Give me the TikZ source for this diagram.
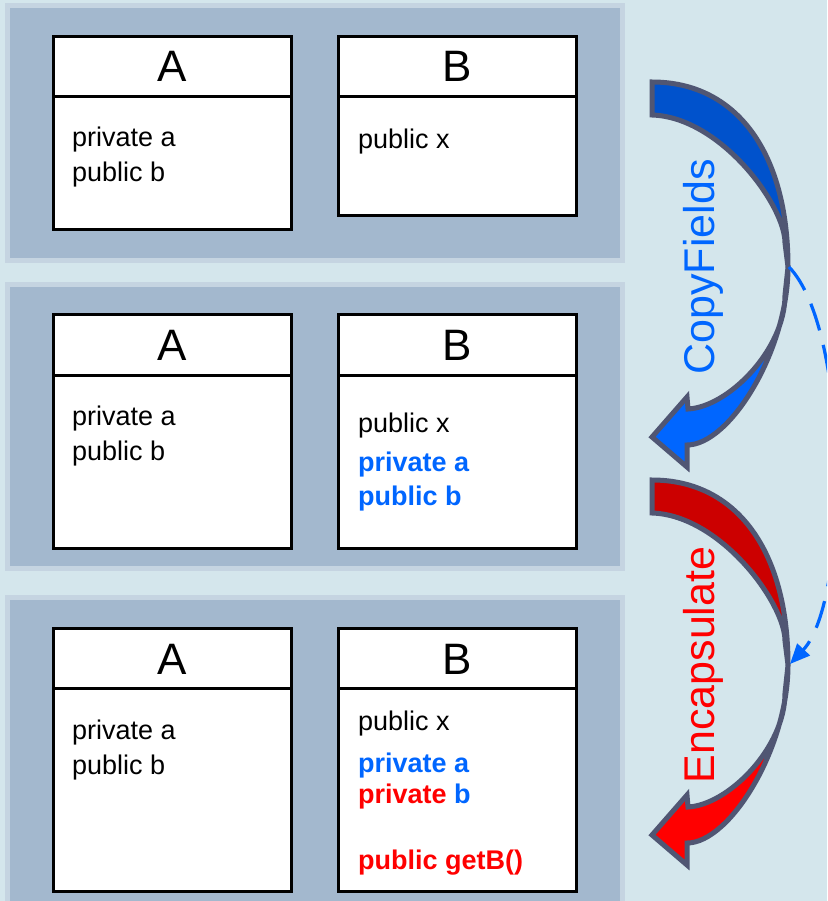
\documentclass[tikz,border=0pt]{standalone}
\usepackage{fontspec}
\setmainfont{Liberation Sans}
\usetikzlibrary{arrows.meta}

\definecolor{bgcol}{RGB}{212,230,236}
\definecolor{panelcol}{RGB}{163,184,206}
\definecolor{paneledge}{RGB}{197,212,225}
\definecolor{fieldblue}{RGB}{0,102,255}
\definecolor{fieldred}{RGB}{255,0,0}
\definecolor{arrowdarkblue}{RGB}{0,82,204}
\definecolor{arrowdarkred}{RGB}{204,0,0}
\definecolor{arrowedge}{RGB}{80,86,115}

\tikzset{
  panel/.style={fill=panelcol, draw=paneledge, line width=5pt},
  classbox/.style={draw=black, fill=white, line width=3pt, inner sep=0pt,
    outer sep=0pt, anchor=north west, minimum width=238pt},
  divider/.style={draw=black, line width=3pt},
  classname/.style={font=\fontsize{44}{50}\selectfont, anchor=base, inner sep=0pt},
  member/.style={font=\fontsize{27}{32}\selectfont, anchor=base west, inner sep=0pt},
  newmember/.style={member, font=\fontsize{27}{32}\selectfont\bfseries},
  arrowlabel/.style={font=\fontsize{43}{50}\selectfont, anchor=base, rotate=90, inner sep=0pt},
  dashlink/.style={draw=fieldblue, line width=3.2pt, dash pattern=on 28pt off 15pt,
    -{Triangle[length=20pt,width=17pt]}},
  arrowpart/.style={draw=arrowedge, line width=5pt, line join=miter, miter limit=3},
  % twisted curved arrow: dark back half, bright front half with head
  pics/twistarrow/.style 2 args={code={
    \filldraw[arrowpart, fill=#1]
      (0,-185) .. controls (84,-185) and (136,-115) .. (136,0)
      -- (133,-24) .. controls (133,-62) and (68,-150) .. (0,-152) -- cycle;
    \filldraw[arrowpart, fill=#2]
      (136,0) .. controls (136,83) and (78,178) .. (35,178)
      -- (35,200) -- (0,170) -- (35,130) -- (36,142)
      .. controls (76,140) and (133,83) .. (133,28) -- cycle;
  }}
}

\begin{document}
\begin{tikzpicture}[x=1pt, y=-1pt]
\fill[bgcol] (0,0) rectangle (827,901);
\useasboundingbox (0,0) rectangle (827,901);
\clip (0,0) rectangle (827,901);

% three stages
\draw[panel] (7.5,5.5) rectangle (622.5,260.5);
\draw[panel] (7.5,284.5) rectangle (622.5,568.5);
\draw[panel] (7.5,597.5) rectangle (622.5,930);

% ---- stage 1
\node[classbox, minimum height=193pt] (A1) at (53.5,36.5) {};
\node[classbox, minimum height=179pt] (B1) at (338.5,36.5) {};
\draw[divider] (A1.west |- 0,97) -- (A1.east |- 0,97);
\draw[divider] (B1.west |- 0,97) -- (B1.east |- 0,97);
\node[classname] (A1name) at (172.5,82) {A};
\node[classname] (B1name) at (457.5,82) {B};
\node[member] (A1a) at (72,147) {private a};
\node[member] (A1b) at (72,182) {public b};
\node[member] (B1x) at (358,149) {public x};

% ---- stage 2
\node[classbox, minimum height=234pt] (A2) at (53.5,314.5) {};
\node[classbox, minimum height=234pt] (B2) at (338.5,314.5) {};
\draw[divider] (A2.west |- 0,375.5) -- (A2.east |- 0,375.5);
\draw[divider] (B2.west |- 0,375.5) -- (B2.east |- 0,375.5);
\node[classname] (A2name) at (172.5,360) {A};
\node[classname] (B2name) at (457.5,360) {B};
\node[member] (A2a) at (72,425) {private a};
\node[member] (A2b) at (72,460) {public b};
\node[member] (B2x) at (358,432) {public x};
\node[newmember, text=fieldblue] (B2a) at (358,471) {private a};
\node[newmember, text=fieldblue] (B2b) at (358,505) {public b};

% ---- stage 3
\node[classbox, minimum height=263pt] (A3) at (53.5,628.5) {};
\node[classbox, minimum height=263pt] (B3) at (338.5,628.5) {};
\draw[divider] (A3.west |- 0,688) -- (A3.east |- 0,688);
\draw[divider] (B3.west |- 0,688) -- (B3.east |- 0,688);
\node[classname] (A3name) at (172.5,674) {A};
\node[classname] (B3name) at (457.5,674) {B};
\node[member] (A3a) at (72,739) {private a};
\node[member] (A3b) at (72,774) {public b};
\node[member] (B3x) at (358,730) {public x};
\node[newmember, text=fieldblue] (B3a) at (358,772) {private a};
\node[newmember] (B3b) at (358,803) {\textcolor{fieldred}{private} \textcolor{fieldblue}{b}};
\node[newmember, text=fieldred] (B3g) at (358,869) {public getB()};

% ---- refactoring steps
\pic (copyarrow) at (652,267) {twistarrow={arrowdarkblue}{fieldblue}};
\pic (encarrow) at (652,665) {twistarrow={arrowdarkred}{fieldred}};
\node[arrowlabel, text=fieldblue] (copylbl) at (714,267) {CopyFields};
\node[arrowlabel, text=fieldred] (enclbl) at (714,665) {Encapsulate};

\coordinate (copyR) at (789,267);
\coordinate (encR) at (790,664);
\draw[dashlink] (copyR) .. controls (850,330) and (850,600) .. (encR);
\end{tikzpicture}
\end{document}
